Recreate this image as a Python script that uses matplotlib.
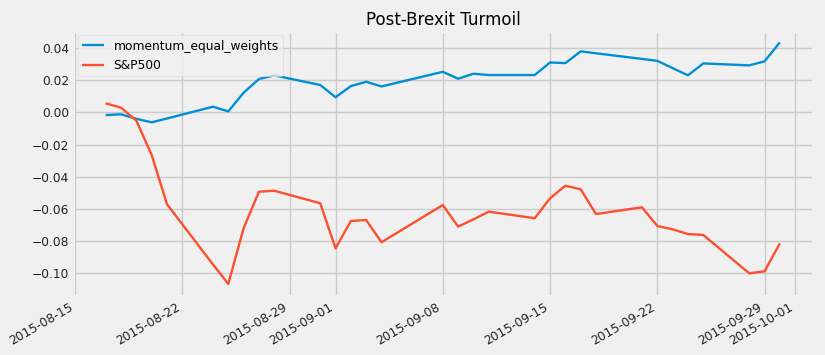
import matplotlib
matplotlib.use("Agg")
import matplotlib.pyplot as plt
import matplotlib.dates as mdates
import pandas as pd

plt.style.use("fivethirtyeight")

dates = ["2015-08-17", "2015-08-18", "2015-08-19", "2015-08-20", "2015-08-21",
         "2015-08-24", "2015-08-25", "2015-08-26", "2015-08-27", "2015-08-28",
         "2015-08-31", "2015-09-01", "2015-09-02", "2015-09-03", "2015-09-04",
         "2015-09-08", "2015-09-09", "2015-09-10", "2015-09-11", "2015-09-14",
         "2015-09-15", "2015-09-16", "2015-09-17", "2015-09-18", "2015-09-21",
         "2015-09-22", "2015-09-23", "2015-09-24", "2015-09-25", "2015-09-28",
         "2015-09-29", "2015-09-30"]

momentum_equal_weights = [-0.0017, -0.0012, -0.0040, -0.0062, -0.0038,
                          0.0035, 0.0006, 0.0122, 0.0207, 0.0230,
                          0.0170, 0.0094, 0.0163, 0.0190, 0.0161,
                          0.0252, 0.0209, 0.0240, 0.0232, 0.0232,
                          0.0310, 0.0306, 0.0379, 0.0367, 0.0332,
                          0.0320, 0.0275, 0.0230, 0.0304, 0.0292,
                          0.0317, 0.0435]

sp500 = [0.0056, 0.0029, -0.0052, -0.0265, -0.0571,
         -0.0945, -0.1066, -0.0720, -0.0493, -0.0487,
         -0.0565, -0.0845, -0.0675, -0.0669, -0.0807,
         -0.0576, -0.0710, -0.0665, -0.0617, -0.0658,
         -0.0534, -0.0456, -0.0478, -0.0632, -0.0590,
         -0.0706, -0.0727, -0.0756, -0.0762, -0.1000,
         -0.0988, -0.0814]

series_names = ["momentum_equal_weights", "S&P500"]
title = "Post-Brexit Turmoil"

idx = pd.to_datetime(dates)

fig = plt.figure(figsize=(8.25, 3.55), dpi=100)
fig.patch.set_facecolor("#f0f0f0")
ax = fig.add_axes([0.091, 0.169, 0.893, 0.738])
ax.set_facecolor("#f0f0f0")

ax.plot(idx, momentum_equal_weights, color="#008fd5", lw=1.7, label=series_names[0])
ax.plot(idx, sp500, color="#fc4f30", lw=1.7, label=series_names[1])

ax.xaxis.set_major_locator(mdates.DayLocator(bymonthday=[1, 8, 15, 22, 29]))
ax.xaxis.set_major_formatter(mdates.DateFormatter("%Y-%m-%d"))
ax.set_xlim(pd.Timestamp("2015-08-15"), pd.Timestamp("2015-10-02 02:00"))
ax.set_ylim(-0.1135, 0.0493)
ax.set_yticks([-0.10, -0.08, -0.06, -0.04, -0.02, 0.00, 0.02, 0.04])
ax.yaxis.set_major_formatter(plt.FuncFormatter(lambda v, p: f"{v:.2f}".replace("-", "\u2212")))

ax.tick_params(axis="both", labelsize=8.8, length=0, pad=4, colors="#222222")
for lbl in ax.get_xticklabels():
    lbl.set_rotation(30)
    lbl.set_ha("right")
ax.grid(True, color="#cbcbcb", lw=1.0)
for s in ax.spines.values():
    s.set_visible(False)

ax.set_title(title, fontsize=12, pad=6)
leg = ax.legend(loc="upper left", fontsize=8.8, frameon=True, facecolor="#f0f0f0",
                edgecolor="#d8d8d8", framealpha=0.8, borderpad=0.35,
                handlelength=1.8, borderaxespad=0.2)

fig.savefig("out.png", dpi=100, facecolor=fig.get_facecolor())
